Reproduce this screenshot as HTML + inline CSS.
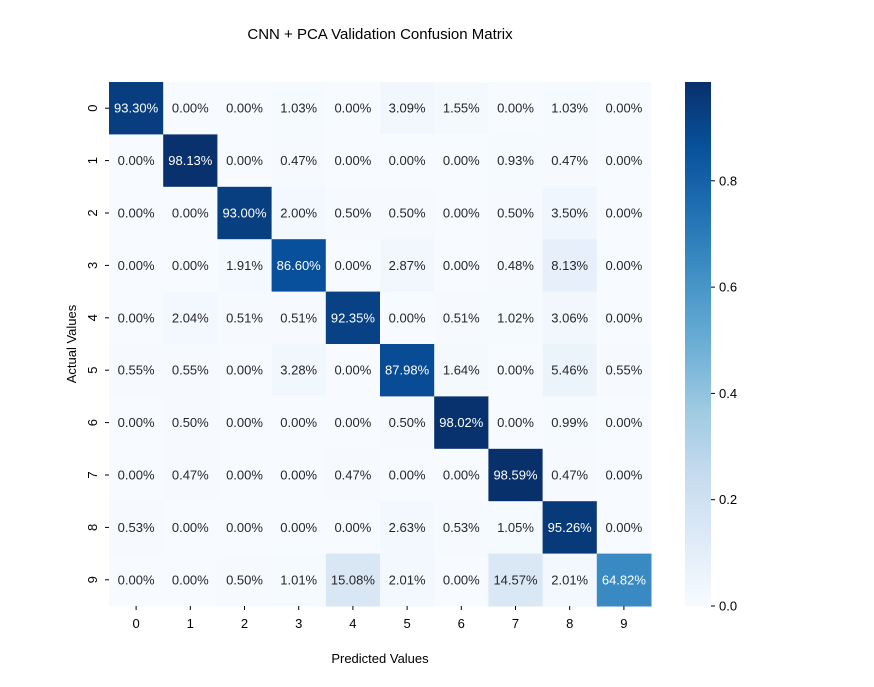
<!DOCTYPE html>
<html><head><meta charset="utf-8"><style>
body{margin:0;background:#fff;font-family:"Liberation Sans",sans-serif}
svg text{font-family:"Liberation Sans",sans-serif}
</style></head><body>
<svg id="chart" width="874" height="682">
<text x="380" y="39" font-size="15" text-anchor="middle">CNN + PCA Validation Confusion Matrix</text>
<text x="380" y="663" font-size="13" text-anchor="middle">Predicted Values</text>
<text transform="translate(76,344) rotate(-90)" font-size="13" text-anchor="middle">Actual Values</text>
<g id="cells"></g><g id="ticks"></g>
<defs><linearGradient id="cbg" x1="0" y1="1" x2="0" y2="0"></linearGradient></defs>
<rect x="685" y="82" width="26" height="524" fill="url(#cbg)"/>
<g id="cbticks"></g>
</svg>
<script>
const labels=["0","1","2","3","4","5","6","7","8","9"];
const row0=[93.30,0,0,1.03,0,3.09,1.55,0,1.03,0];
const row1=[0,98.13,0,0.47,0,0,0,0.93,0.47,0];
const row2=[0,0,93.00,2.00,0.50,0.50,0,0.50,3.50,0];
const row3=[0,0,1.91,86.60,0,2.87,0,0.48,8.13,0];
const row4=[0,2.04,0.51,0.51,92.35,0,0.51,1.02,3.06,0];
const row5=[0.55,0.55,0,3.28,0,87.98,1.64,0,5.46,0.55];
const row6=[0,0.50,0,0,0,0.50,98.02,0,0.99,0];
const row7=[0,0.47,0,0,0.47,0,0,98.59,0.47,0];
const row8=[0.53,0,0,0,0,2.63,0.53,1.05,95.26,0];
const row9=[0,0,0.50,1.01,15.08,2.01,0,14.57,2.01,64.82];
const matrix=[row0,row1,row2,row3,row4,row5,row6,row7,row8,row9];
const cbTicks=[0,0.2,0.4,0.6,0.8];
const vmax=0.9859;
const X0=109,X1=651,Y0=82,Y1=606;
const cw=(X1-X0)/10,ch=(Y1-Y0)/10;
const stops=["#f7fbff","#deebf7","#c6dbef","#9ecae1","#6baed6","#4292c6","#2171b5","#08519c","#08306b"];
function hx(h){return [1,3,5].map(i=>parseInt(h.substr(i,2),16));}
function blues(t){t=Math.max(0,Math.min(1,t));const p=t*8,i=Math.min(7,Math.floor(p)),f=p-i;const a=hx(stops[i]),b=hx(stops[i+1]);return "rgb("+a.map((v,k)=>Math.round(v+(b[k]-v)*f)).join(",")+")";}
const xs=c=>X0+c*cw, ys=r=>Y0+r*ch, cby=v=>Y1-(v/vmax)*(Y1-Y0);
const NS="http://www.w3.org/2000/svg";
const cells=document.getElementById("cells"),ticks=document.getElementById("ticks");
matrix.forEach((row,r)=>row.forEach((v,c)=>{
 const t=v/100/vmax;
 const rc=document.createElementNS(NS,"rect");
 rc.setAttribute("x",xs(c));rc.setAttribute("y",ys(r));rc.setAttribute("width",cw+0.5);rc.setAttribute("height",ch+0.5);rc.setAttribute("fill",blues(t));
 
 
 cells.appendChild(rc);
 const tx=document.createElementNS(NS,"text");
 tx.setAttribute("x",xs(c)+cw/2);tx.setAttribute("y",ys(r)+ch/2+4.5);tx.setAttribute("font-size","13");tx.setAttribute("text-anchor","middle");
 tx.setAttribute("fill",t>0.55?"#fff":"#262626");tx.textContent=v.toFixed(2)+"%";
 
 
 cells.appendChild(tx);
}));
labels.forEach((l,i)=>{
 const a=document.createElementNS(NS,"text");a.setAttribute("x",xs(i)+cw/2);a.setAttribute("y",Y1+22);a.setAttribute("font-size","13");a.setAttribute("text-anchor","middle");a.textContent=l;
 
 
 ticks.appendChild(a);
 const ln=document.createElementNS(NS,"line");ln.setAttribute("x1",xs(i)+cw/2);ln.setAttribute("x2",xs(i)+cw/2);ln.setAttribute("y1",Y1);ln.setAttribute("y2",Y1+4);ln.setAttribute("stroke","#000");ticks.appendChild(ln);
 const b=document.createElementNS(NS,"text");const yy=ys(i)+ch/2;b.setAttribute("transform","translate("+(X0-12)+","+yy+") rotate(-90)");b.setAttribute("font-size","13");b.setAttribute("text-anchor","middle");b.textContent=l;
 
 
 ticks.appendChild(b);
 const l2=document.createElementNS(NS,"line");l2.setAttribute("x1",X0-4);l2.setAttribute("x2",X0);l2.setAttribute("y1",yy);l2.setAttribute("y2",yy);l2.setAttribute("stroke","#000");ticks.appendChild(l2);
});
const g=document.getElementById("cbg");
stops.forEach((s,i)=>{const st=document.createElementNS(NS,"stop");st.setAttribute("offset",i/8);st.setAttribute("stop-color",s);g.appendChild(st);});
const cbt=document.getElementById("cbticks");
cbTicks.forEach(v=>{
 const y=cby(v);
 const ln=document.createElementNS(NS,"line");ln.setAttribute("x1",711);ln.setAttribute("x2",715);ln.setAttribute("y1",y);ln.setAttribute("y2",y);ln.setAttribute("stroke","#000");cbt.appendChild(ln);
 const t=document.createElementNS(NS,"text");t.setAttribute("x",719);t.setAttribute("y",y+4.5);t.setAttribute("font-size","13");t.textContent=v.toFixed(1);
 
 
 cbt.appendChild(t);
});
</script>
</body></html>
